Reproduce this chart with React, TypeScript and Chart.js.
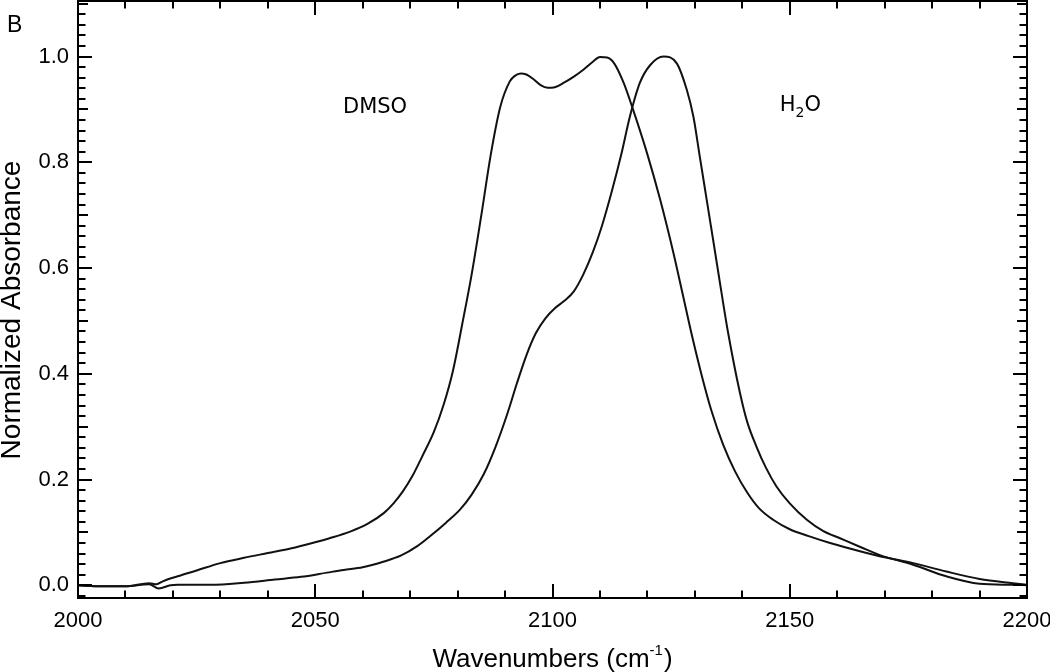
import React, { useEffect, useRef } from "react";
import { Chart, registerables } from "chart.js";

Chart.register(...registerables);

// ---- data ----
const dmsoX = [2000, 2005, 2010, 2015, 2016.5, 2018, 2021, 2025, 2030, 2035, 2040, 2045, 2049, 2053, 2057.5, 2061, 2064.5, 2066.5, 2068.5, 2070.5, 2072.5, 2075, 2077, 2079, 2081, 2083, 2085, 2087, 2089, 2091, 2092, 2093.3, 2094.5, 2096, 2097.5, 2099, 2100.5, 2102.5, 2104.5, 2106.5, 2108.5, 2110, 2111.5, 2113, 2115, 2117, 2120, 2122.7, 2125.5, 2127.5, 2129.5, 2131.5, 2133.5, 2136, 2138.5, 2141, 2143.5, 2146.5, 2150, 2154, 2158.5, 2165, 2170, 2176, 2183, 2190, 2197, 2200];
const dmsoY = [0.0, -0.002, -0.002, 0.004, 0.002, 0.008, 0.017, 0.028, 0.042, 0.052, 0.061, 0.07, 0.079, 0.089, 0.102, 0.116, 0.137, 0.155, 0.178, 0.207, 0.243, 0.29, 0.34, 0.405, 0.495, 0.59, 0.7, 0.815, 0.905, 0.953, 0.963, 0.968, 0.966, 0.957, 0.946, 0.941, 0.942, 0.951, 0.962, 0.975, 0.99, 0.999, 0.998, 0.987, 0.95, 0.899, 0.815, 0.729, 0.628, 0.548, 0.468, 0.395, 0.33, 0.265, 0.215, 0.176, 0.146, 0.124, 0.106, 0.093, 0.08, 0.064, 0.053, 0.042, 0.026, 0.012, 0.004, 0.001];

const h2oX = [2000, 2005, 2010, 2015, 2017, 2019.5, 2021, 2028, 2035, 2041.5, 2047, 2052.5, 2056, 2060, 2064.5, 2068, 2071.5, 2074.5, 2077.5, 2080.5, 2083, 2085.5, 2088, 2090.5, 2092.5, 2094.5, 2096.5, 2098.5, 2100.5, 2102.5, 2104.5, 2106.5, 2108.5, 2110.5, 2112.5, 2114.5, 2116.3, 2118.4, 2120.6, 2123.4, 2126.2, 2128.3, 2129.7, 2131, 2132.5, 2134, 2135.5, 2137, 2139.5, 2141, 2143, 2145, 2147.2, 2150, 2153.6, 2157, 2160.6, 2165, 2169, 2176, 2183, 2190, 2197, 2200];
const h2oY = [0.0, -0.002, -0.002, 0.002, -0.006, 0.0, 0.001, 0.001, 0.005, 0.011, 0.016, 0.024, 0.029, 0.034, 0.045, 0.056, 0.074, 0.095, 0.118, 0.143, 0.172, 0.21, 0.262, 0.325, 0.382, 0.435, 0.477, 0.505, 0.524, 0.538, 0.556, 0.588, 0.63, 0.682, 0.745, 0.815, 0.886, 0.95, 0.984, 1.0, 0.987, 0.937, 0.886, 0.813, 0.729, 0.645, 0.56, 0.478, 0.364, 0.31, 0.262, 0.222, 0.187, 0.155, 0.124, 0.103, 0.089, 0.072, 0.057, 0.039, 0.017, 0.003, 0.001, 0.0];

const xTickValues = [2000, 2050, 2100, 2150, 2200];
const yTickValues = [0, 0.2, 0.4, 0.6, 0.8, 1.0];

const X_MIN = 2000;
const X_MAX = 2200;
const Y_MIN = -0.024;
const Y_MAX = 1.105;

const xTitle = "Wavenumbers (cm";
const xTitleSup = "-1";
const yTitle = "Normalized Absorbance";
const panelLabel = "B";

// annotation anchors in data coordinates
const dmsoLabel = { text: "DMSO", x: 2062.6, y: 0.893 };
const h2oLabel = { x: 2147.9, y: 0.897 };

const SANS = "'Liberation Sans', Arial, Helvetica, sans-serif";
const LABEL_FONT = "'DejaVu Sans', Verdana, sans-serif";

const framePlugin = {
  id: "frameTicks",
  afterDraw(chart: any) {
    const { ctx, chartArea } = chart;
    const { left, right, top, bottom } = chartArea;
    const xs = chart.scales.x;
    const ys = chart.scales.y;
    ctx.save();
    ctx.strokeStyle = "#000";
    ctx.lineWidth = 2;
    ctx.strokeRect(left, top, right - left, bottom - top);

    ctx.beginPath();
    // x ticks every 10, major every 50
    for (let i = 0; i <= 20; i++) {
      const v = X_MIN + i * 10;
      const px = Math.round(xs.getPixelForValue(v));
      const len = i % 5 === 0 ? 14 : 7.5;
      ctx.moveTo(px, bottom);
      ctx.lineTo(px, bottom - len);
      ctx.moveTo(px, top);
      ctx.lineTo(px, top + len);
    }
    // y ticks every 0.02, medium every 0.1, major every 0.2
    for (let i = -1; i <= 55; i++) {
      const v = i * 0.02;
      if (v < Y_MIN || v > Y_MAX) continue;
      const py = Math.round(ys.getPixelForValue(v));
      const len = i % 10 === 0 ? 14 : i % 5 === 0 ? 10 : 7.5;
      ctx.moveTo(left, py);
      ctx.lineTo(left + len, py);
      ctx.moveTo(right, py);
      ctx.lineTo(right - len, py);
    }
    ctx.stroke();

    ctx.fillStyle = "#000";

    // y-axis title
    ctx.save();
    ctx.font = `28px ${SANS}`;
    ctx.textAlign = "center";
    ctx.textBaseline = "middle";
    ctx.translate(12, 310);
    ctx.rotate(-Math.PI / 2);
    ctx.fillText(yTitle, 0, 0);
    ctx.restore();

    // x-axis title with superscript
    ctx.textBaseline = "alphabetic";
    ctx.textAlign = "left";
    const mainFont = `26px ${SANS}`;
    const supFont = `15px ${SANS}`;
    ctx.font = mainFont;
    const w1 = ctx.measureText(xTitle).width;
    const wClose = ctx.measureText(")").width;
    ctx.font = supFont;
    const w2 = ctx.measureText(xTitleSup).width;
    const total = w1 + w2 + 1 + wClose;
    let tx = (left + right) / 2 - total / 2;
    const baseY = 667;
    ctx.font = mainFont;
    ctx.fillText(xTitle, tx, baseY);
    tx += w1;
    ctx.font = supFont;
    ctx.fillText(xTitleSup, tx, baseY - 12);
    tx += w2 + 1;
    ctx.font = mainFont;
    ctx.fillText(")", tx, baseY);

    // panel label
    ctx.font = `23px ${SANS}`;
    ctx.fillText(panelLabel, 7, 32);

    // curve labels
    ctx.font = `21px ${LABEL_FONT}`;
    ctx.textAlign = "center";
    ctx.fillText(dmsoLabel.text, xs.getPixelForValue(dmsoLabel.x), ys.getPixelForValue(dmsoLabel.y));

    ctx.textAlign = "left";
    let hx = xs.getPixelForValue(h2oLabel.x);
    const hy = ys.getPixelForValue(h2oLabel.y);
    ctx.font = `21px ${LABEL_FONT}`;
    ctx.fillText("H", hx, hy);
    hx += ctx.measureText("H").width;
    ctx.font = `14px ${LABEL_FONT}`;
    ctx.fillText("2", hx, hy + 6);
    hx += ctx.measureText("2").width;
    ctx.font = `21px ${LABEL_FONT}`;
    ctx.fillText("O", hx, hy);
    ctx.restore();
  },
};

export default function App() {
  const canvasRef = useRef<HTMLCanvasElement | null>(null);

  useEffect(() => {
    if (!canvasRef.current) return;
    Chart.defaults.font.family = SANS;
    const chart = new Chart(canvasRef.current, {
      type: "line",
      data: {
        datasets: [
          {
            label: "DMSO",
            data: dmsoX.map((x, i) => ({ x, y: dmsoY[i] })),
            borderColor: "#111",
            borderWidth: 2,
            pointRadius: 0,
            fill: false,
            cubicInterpolationMode: "monotone",
          },
          {
            label: "H2O",
            data: h2oX.map((x, i) => ({ x, y: h2oY[i] })),
            borderColor: "#111",
            borderWidth: 2,
            pointRadius: 0,
            fill: false,
            cubicInterpolationMode: "monotone",
          },
        ],
      },
      options: {
        animation: false,
        responsive: true,
        maintainAspectRatio: false,
        devicePixelRatio: 1,
        layout: { padding: { top: 1, right: 23, bottom: 0, left: 0 } },
        plugins: {
          legend: { display: false },
          tooltip: { enabled: false },
        },
        scales: {
          x: {
            type: "linear",
            min: X_MIN,
            max: X_MAX,
            afterBuildTicks: (s: any) => {
              s.ticks = xTickValues.map((v) => ({ value: v }));
            },
            afterFit: (s: any) => {
              s.height = 74;
              s.paddingLeft = 0;
              s.paddingRight = 0;
            },
            grid: { display: false, drawTicks: false },
            border: { display: false },
            ticks: {
              color: "#000",
              font: { family: SANS, size: 22 },
              padding: 10,
              maxRotation: 0,
              autoSkip: false,
              callback: (v: any) => String(v),
            },
          },
          y: {
            type: "linear",
            min: Y_MIN,
            max: Y_MAX,
            afterBuildTicks: (s: any) => {
              s.ticks = yTickValues.map((v) => ({ value: v }));
            },
            afterFit: (s: any) => {
              s.width = 78;
              s.paddingTop = 0;
              s.paddingBottom = 0;
            },
            grid: { display: false, drawTicks: false },
            border: { display: false },
            ticks: {
              color: "#000",
              font: { family: SANS, size: 22 },
              padding: 9,
              autoSkip: false,
              callback: (v: any) => Number(v).toFixed(1),
            },
            title: { display: false, text: yTitle },
          },
        },
      },
      plugins: [framePlugin],
    });
    return () => chart.destroy();
  }, []);

  return (
    <div style={{ position: "fixed", left: 0, top: 0, width: 1050, height: 672, background: "#fff" }}>
      <canvas ref={canvasRef} />
    </div>
  );
}
